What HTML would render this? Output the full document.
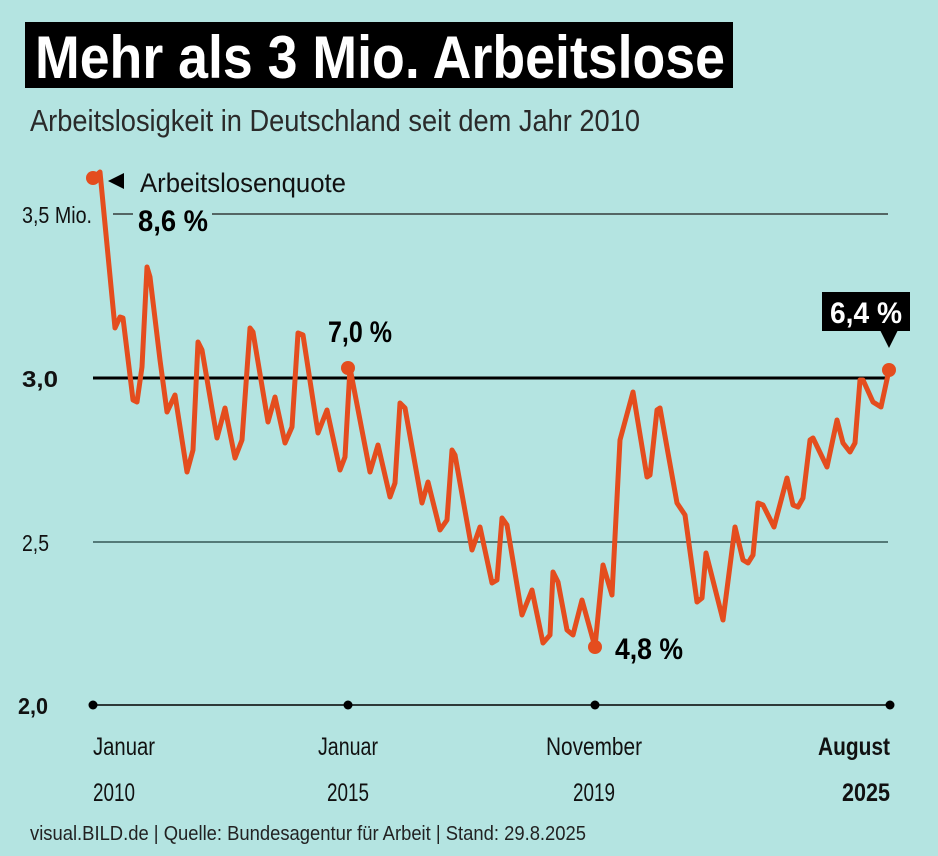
<!DOCTYPE html>
<html><head><meta charset="utf-8"><style>
html,body{margin:0;padding:0;background:#b4e4e1;}
svg{display:block;font-family:"Liberation Sans",sans-serif;}
</style></head><body>
<svg width="938" height="856" viewBox="0 0 938 856" xmlns="http://www.w3.org/2000/svg">
<rect width="938" height="856" fill="#b4e4e1"/>
<rect x="25" y="22" width="708" height="66" fill="#000"/>
<text x="35" y="78" fill="#fff" font-size="60" font-weight="bold" textLength="690" lengthAdjust="spacingAndGlyphs">Mehr als 3 Mio. Arbeitslose</text>
<text x="30" y="131" fill="#2a2a2a" font-size="31" textLength="610" lengthAdjust="spacingAndGlyphs">Arbeitslosigkeit in Deutschland seit dem Jahr 2010</text>

<line x1="113" y1="214" x2="133" y2="214" stroke="#1a1a1a" stroke-width="1.3"/>
<line x1="212" y1="214" x2="888" y2="214" stroke="#1a1a1a" stroke-width="1.3"/>
<line x1="93" y1="378" x2="888" y2="378" stroke="#000" stroke-width="3"/>
<line x1="93" y1="542" x2="888" y2="542" stroke="#1a3a3a" stroke-width="1.3"/>
<line x1="93" y1="705" x2="890" y2="705" stroke="#000" stroke-width="1.5"/>
<g fill="#000"><circle cx="93" cy="705" r="4.5"/><circle cx="348" cy="705" r="4.5"/><circle cx="595" cy="705" r="4.5"/><circle cx="890" cy="705" r="4.5"/></g>

<g fill="#111" font-size="23">
<text x="22" y="223" textLength="70" lengthAdjust="spacingAndGlyphs">3,5 Mio.</text>
<text x="22" y="387" font-weight="bold" textLength="36" lengthAdjust="spacingAndGlyphs">3,0</text>
<text x="22" y="551" textLength="27" lengthAdjust="spacingAndGlyphs">2,5</text>
<text x="18" y="714" font-weight="bold" textLength="30" lengthAdjust="spacingAndGlyphs">2,0</text>
</g>

<polyline fill="none" stroke="#e44d1e" stroke-width="5" stroke-linejoin="round" stroke-linecap="round" points="
93,178 100,172 115,328 120,317 123,318 133,400 137,402 142,367 147,267 150,277 160,360 167,412 175,395 180,427 187,472 193,450 198,342 202,350 217,438 225,408 235,458 242,440 250,328 253,332 268,422 275,397 285,443 292,427 298,333 303,335 318,433 327,410 340,470 345,457 350,368 370,472 378,445 390,497 395,483 400,403 405,408 422,503 428,482 440,530 447,520 452,450 455,455 472,550 480,527 492,583 497,580 502,518 507,525 522,615 532,590 543,643 550,635 553,572 558,582 567,630 573,635 582,600 595,647 603,565 612,595 620,440 633,392 647,477 650,475 657,410 660,408 668,453 677,503 685,515 697,602 702,598 706,553 723,620 735,527 743,560 748,563 753,555 758,503 763,505 774,527 787,478 793,505 798,507 803,498 810,440 813,438 827,467 837,420 843,443 850,452 855,443 860,380 863,380 873,402 881,407 889,370"/>
<g fill="#e44d1e">
<circle cx="93" cy="178" r="7"/><circle cx="348" cy="368" r="7"/><circle cx="595" cy="647" r="7"/><circle cx="889" cy="370" r="7"/>
</g>

<polygon points="108,181 124,173 124,189" fill="#000"/>
<text x="140" y="192" font-size="27" fill="#111" textLength="206" lengthAdjust="spacingAndGlyphs">Arbeitslosenquote</text>
<g font-weight="bold" font-size="30" fill="#000">
<text x="138" y="231" textLength="70" lengthAdjust="spacingAndGlyphs">8,6 %</text>
<text x="328" y="342" textLength="64" lengthAdjust="spacingAndGlyphs">7,0 %</text>
<text x="615" y="659" textLength="68" lengthAdjust="spacingAndGlyphs">4,8 %</text>
</g>
<rect x="822" y="292" width="88" height="39" fill="#000"/>
<polygon points="880,330 898,330 889,348" fill="#000"/>
<text x="830" y="323" font-weight="bold" font-size="30" fill="#fff" textLength="72" lengthAdjust="spacingAndGlyphs">6,4 %</text>

<g font-size="25" fill="#111">
<text x="93" y="755" textLength="62" lengthAdjust="spacingAndGlyphs">Januar</text>
<text x="93" y="801" textLength="42" lengthAdjust="spacingAndGlyphs">2010</text>
<text x="318" y="755" textLength="60" lengthAdjust="spacingAndGlyphs">Januar</text>
<text x="327" y="801" textLength="42" lengthAdjust="spacingAndGlyphs">2015</text>
<text x="546" y="755" textLength="96" lengthAdjust="spacingAndGlyphs">November</text>
<text x="573" y="801" textLength="42" lengthAdjust="spacingAndGlyphs">2019</text>
<text x="818" y="755" font-weight="bold" textLength="72" lengthAdjust="spacingAndGlyphs">August</text>
<text x="842" y="801" font-weight="bold" textLength="48" lengthAdjust="spacingAndGlyphs">2025</text>
</g>
<text x="30" y="840" font-size="20" fill="#222" textLength="556" lengthAdjust="spacingAndGlyphs">visual.BILD.de | Quelle: Bundesagentur für Arbeit | Stand: 29.8.2025</text>
</svg>
</body></html>
